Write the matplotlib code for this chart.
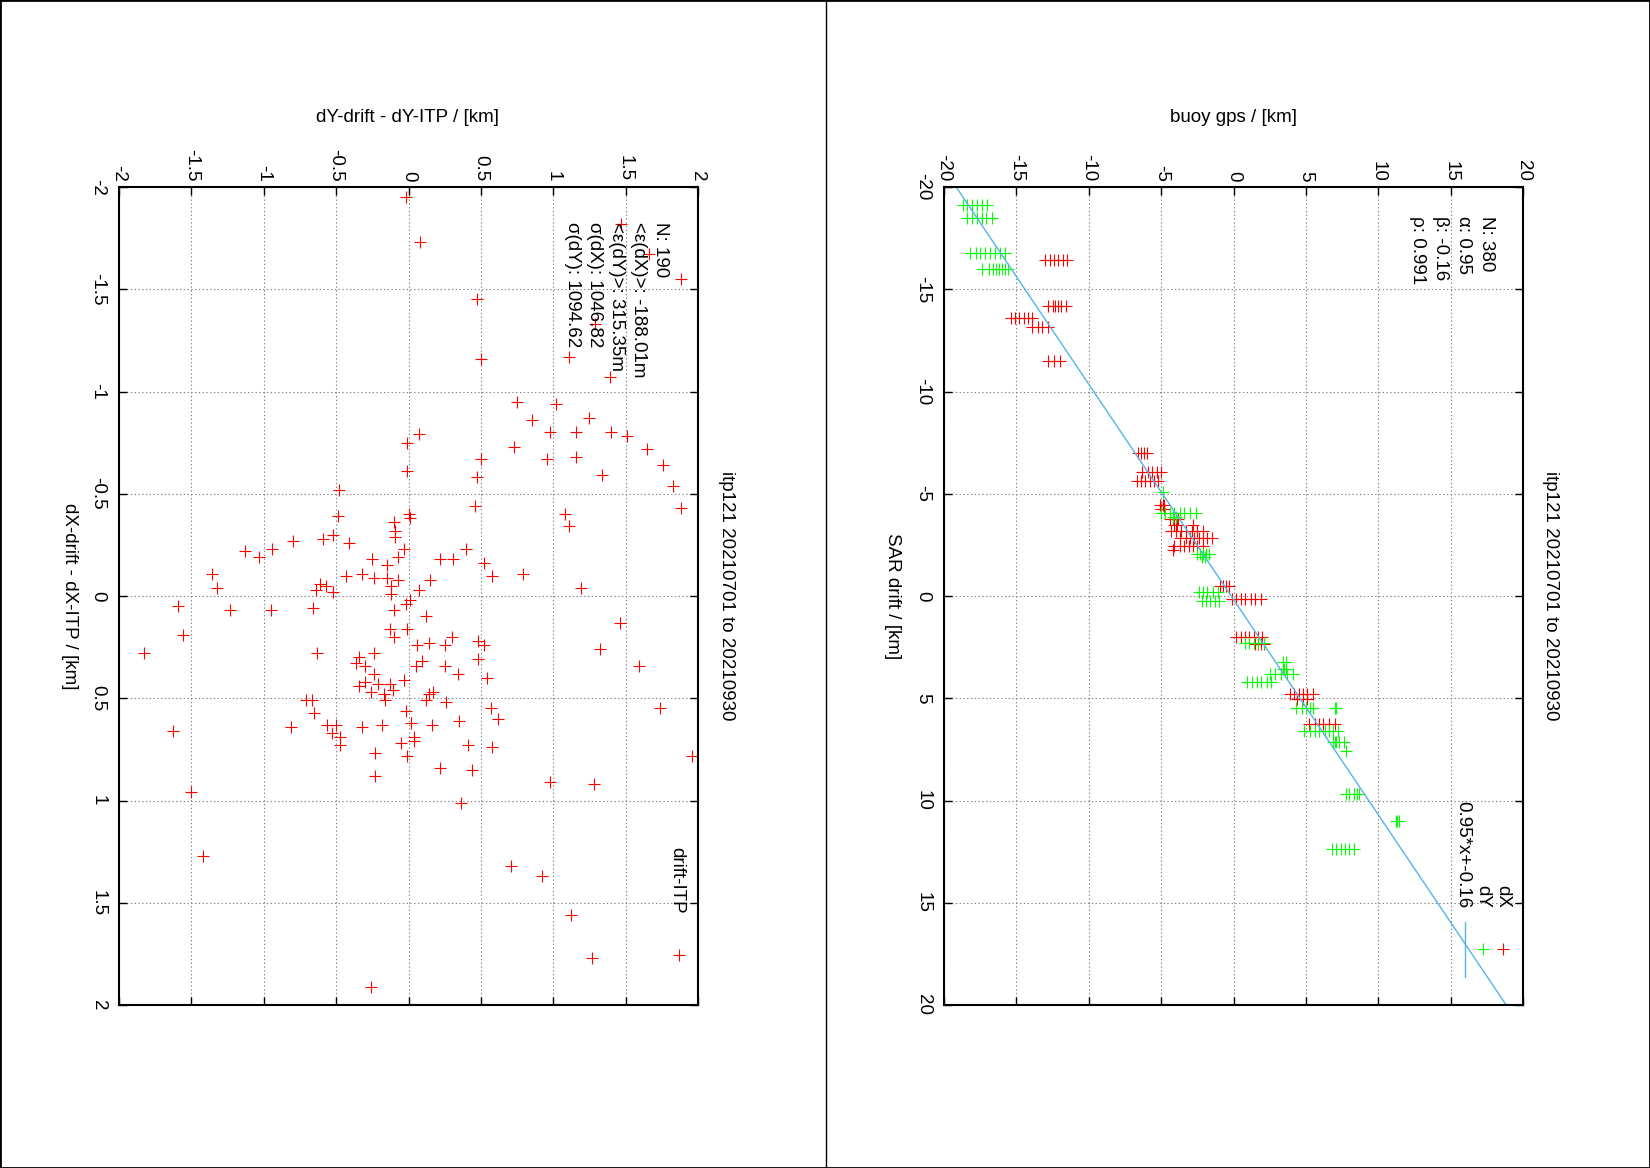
import matplotlib
matplotlib.use("Agg")
import matplotlib.pyplot as plt
from matplotlib.lines import Line2D
import numpy as np

plt.rcParams['font.family'] = ['Liberation Sans', 'DejaVu Sans']
plt.rcParams['axes.unicode_minus'] = False

# ---- data -------------------------------------------------------------
title = "itp121 20210701 to 20210930"

# right panel: SAR drift vs buoy gps, rows of (SAR drift, [buoy gps ...]) in km
dX_rows = [
    (-16.45, [-13.0, -12.7, -12.4, -12.1, -11.8, -11.5]),
    (-14.18, [-12.8, -12.5, -12.3, -12.1, -11.9, -11.6]),
    (-13.6, [-15.4, -15.1, -14.8, -14.5, -14.2, -13.9]),
    (-13.17, [-13.9, -13.5, -13.2, -12.8]),
    (-11.48, [-12.8, -12.4, -12.0]),
    (-7.0, [-6.6, -6.4, -6.2, -6.0]),
    (-6.04, [-6.3, -5.9, -5.6, -5.3, -5.0]),
    (-5.63, [-6.7, -6.4, -6.1, -5.8, -5.5, -5.2]),
    (-4.43, [-5.1, -4.9, -4.8]),
    (-4.25, [-5.0, -4.8]),
    (-3.78, [-4.4, -4.2, -4.0, -3.8]),
    (-3.48, [-4.1, -3.9, -2.8]),
    (-3.19, [-4.3, -4.0, -3.6, -3.3, -2.9, -2.5, -2.1]),
    (-2.86, [-3.7, -3.3, -3.0, -2.7, -2.4, -2.1, -1.8, -1.5]),
    (-2.45, [-4.1, -3.7, -3.4, -3.1, -2.8, -2.5, -2.1]),
    (-2.24, [-4.2]),
    (-0.48, [-0.9, -0.7, -0.5, -0.3]),
    (0.14, [-0.1, 0.2, 0.5, 0.8, 1.2, 1.5, 1.9]),
    (2.0, [0.2, 0.5, 0.8, 1.1, 1.4, 1.7, 2.0]),
    (2.35, [1.5, 1.7, 1.9, 2.1]),
    (4.77, [3.9, 4.2, 4.5, 4.8, 5.1, 5.5]),
    (5.02, [4.4, 4.8, 5.1]),
    (6.24, [5.2, 5.6, 5.9, 6.2, 6.6, 7.0]),
]
dY_rows = [
    (-19.12, [-18.7, -18.4, -18.1, -17.7, -17.4, -17.0]),
    (-18.5, [-18.4, -18.1, -17.7, -17.4, -17.1, -16.7]),
    (-16.79, [-18.2, -17.8, -17.5, -17.2, -16.8, -16.5, -16.1, -15.8]),
    (-16.0, [-17.4, -16.9, -16.6, -16.4, -16.2, -16.0, -15.8, -15.6]),
    (-5.1, [-4.9]),
    (-4.06, [-5.0, -4.7, -4.4, -4.1, -3.7, -3.4, -3.0, -2.6]),
    (-3.86, [-4.2, -4.0]),
    (-2.04, [-2.5, -2.3, -2.1, -1.9, -1.7]),
    (-1.9, [-2.2, -2.0]),
    (-0.18, [-2.4, -2.1, -1.8, -1.4, -1.1]),
    (0.25, [-2.2, -1.9, -1.6, -1.3, -1.0]),
    (2.3, [0.8, 1.1, 1.4, 1.7, 2.1]),
    (3.23, [3.4, 3.6]),
    (3.56, [3.4, 3.5, 3.6]),
    (3.8, [2.5, 2.9, 3.3, 3.7, 4.1]),
    (4.2, [0.9, 1.3, 1.6, 1.9, 2.3, 2.6]),
    (5.47, [4.3, 4.7, 5.0, 5.3, 5.5, 7.0, 7.1]),
    (6.61, [4.9, 5.3, 5.6, 5.9, 6.3, 6.6, 6.9, 7.2]),
    (7.14, [6.9, 7.0, 7.1, 7.3, 7.65]),
    (7.6, [7.8]),
    (9.68, [7.8, 8.0, 8.3, 8.5, 8.7]),
    (10.98, [11.2, 11.3, 11.4]),
    (12.36, [6.8, 7.1, 7.4, 7.7, 8.0, 8.3]),
]
fit_alpha = 0.95
fit_beta = -0.16
right_stats = ["N: 380", "α: 0.95", "β: -0.16", "ρ: 0.991"]

# left panel: drift - ITP differences in km
err_dY = [-0.02, 0.08, 1.47, 1.66, 1.88, 0.47, 1.29, 1.11, 1.39, 0.50,
          0.75, 1.02, 0.85, 1.25, 1.16, 1.40, 0.98, 0.07, 1.51, 1.65,
          0.96, 0.50, -0.01, 1.16, 1.76, 0.73, -0.01, 1.83, 1.34, 0.47,
          1.88, -0.48, 0.46, 0.00, 0.01, 1.08, 1.11, -0.49, -0.52, -0.10,
          -0.09, -0.09, -0.41, -0.59, -0.80, -0.94, -1.13, -1.03, -0.03, -0.07,
          -0.25, 0.40, 0.31, 0.52, 0.22, -0.15, -0.32, -0.24, -0.15, -0.07,
          -1.36, 0.58, 0.79, -1.32, -1.23, -0.95, -0.61, -0.57, -0.64, -0.52,
          -0.43, -0.12, 0.07, 0.15, 1.19, -0.12, 0.01, -1.59, -1.56, -0.66,
          -0.02, -0.10, 0.12, -0.13, -0.10, -0.01, 0.06, 0.25, 0.30, 0.48,
          0.52, 1.46, 1.32, -1.83, -0.24, -0.34, -0.36, -0.30, -0.24, 0.09,
          0.14, 0.48, 0.05, 0.25, 0.34, 0.54, 1.59, -0.63, -0.30, -0.21,
          -0.26, -0.34, -0.13, -0.11, -0.17, -0.16, 0.14, 0.12, 0.17, 0.26,
          -0.03, -0.02, 0.02, 0.35, 0.57, 0.62, -0.71, -0.65, -0.56, -0.50,
          -0.53, -0.47, -0.47, -0.67, -0.18, 0.16, 0.04, 0.04, 0.58, -1.63,
          -0.32, -0.81, -0.05, -0.23, -0.01, 0.41, 0.22, 0.44, -1.50, 0.98,
          1.28, -0.23, 0.36, -1.42, 0.71, 0.92, 1.12, 1.27, -0.26, 1.96, 1.74]
err_dX = [-1.95, -1.73, -1.82, -1.67, -1.55, -1.45, -1.33, -1.17, -1.07, -1.16,
          -0.95, -0.94, -0.86, -0.87, -0.80, -0.80, -0.80, -0.79, -0.78, -0.72,
          -0.67, -0.67, -0.75, -0.68, -0.64, -0.73, -0.61, -0.54, -0.59, -0.58,
          -0.43, -0.52, -0.44, -0.40, -0.38, -0.40, -0.34, -0.39, -0.30, -0.36,
          -0.32, -0.29, -0.26, -0.28, -0.27, -0.23, -0.22, -0.19, -0.23, -0.19,
          -0.18, -0.23, -0.18, -0.16, -0.18, -0.15, -0.11, -0.09, -0.09, -0.08,
          -0.11, -0.10, -0.11, -0.04, 0.07, 0.07, -0.06, -0.05, -0.03, -0.02,
          -0.10, -0.05, -0.03, -0.08, -0.04, -0.01, 0.02, 0.05, 0.19, 0.06,
          0.04, 0.07, 0.10, 0.16, 0.20, 0.16, 0.24, 0.24, 0.20, 0.22,
          0.24, 0.13, 0.26, 0.28, 0.28, 0.30, 0.33, 0.34, 0.38, 0.32,
          0.23, 0.31, 0.34, 0.34, 0.38, 0.40, 0.34, 0.28, 0.42, 0.43,
          0.47, 0.44, 0.43, 0.46, 0.48, 0.51, 0.48, 0.51, 0.47, 0.52,
          0.41, 0.56, 0.62, 0.61, 0.55, 0.60, 0.51, 0.57, 0.63, 0.63,
          0.67, 0.69, 0.73, 0.51, 0.63, 0.63, 0.69, 0.71, 0.74, 0.66,
          0.64, 0.64, 0.72, 0.77, 0.78, 0.73, 0.84, 0.85, 0.96, 0.91,
          0.92, 0.88, 1.01, 1.27, 1.32, 1.37, 1.56, 1.77, 1.91, 0.78, 0.55]
left_stats = ["N: 190", "<ε(dX)>: -188.01m", "<ε(dY)>: 315.35m",
              "σ(dX): 1046.82", "σ(dY): 1094.62"]

right_ticks = [-20, -15, -10, -5, 0, 5, 10, 15, 20]
left_ticks = [-2, -1.5, -1, -0.5, 0, 0.5, 1, 1.5, 2]
left_ticklabels = ["-2", "-1.5", "-1", "-0.5", "0", "0.5", "1", "1.5", "2"]

# ---- figure -----------------------------------------------------------
W, H = 1650, 1168
fs = 13.5
mk = dict(ls='none', marker='+', ms=8, mew=0.8)
fig = plt.figure(figsize=(W / 100, H / 100), dpi=100)


def fx(px):
    return px / W


def fy(py):
    return 1 - py / H


def style(ax, ticks, labels):
    lim = (ticks[0], ticks[-1])
    ax.set_xlim(lim)
    ax.set_ylim(lim[::-1])
    ax.set_xticks(ticks)
    ax.set_yticks(ticks)
    ax.set_xticklabels(labels)
    ax.set_yticklabels(labels)
    ax.tick_params(direction='in', length=6, width=1, top=True, right=True,
                   labeltop=True, labelbottom=False, labelsize=fs)
    ax.tick_params(axis='x', labelrotation=-90, pad=4)
    ax.tick_params(axis='y', labelrotation=-90, pad=9)
    for lab in ax.get_yticklabels():
        lab.set_va('center')
    ax.grid(True, color='#808080', lw=0.8, ls=(0, (1.2, 2.2)))
    for s in ax.spines.values():
        s.set_linewidth(1.5)


ax_l = fig.add_axes([fx(119), fy(1005), 579 / W, 818 / H])
ax_r = fig.add_axes([fx(944), fy(1005), 579 / W, 818 / H])

# right panel
sar_x = [s for s, g in dX_rows for _ in g]
gps_x = [v for s, g in dX_rows for v in g]
sar_y = [s for s, g in dY_rows for _ in g]
gps_y = [v for s, g in dY_rows for v in g]
ax_r.plot(gps_x, sar_x, color='#ff0000', **mk)
ax_r.plot(gps_y, sar_y, color='#00ff00', **mk)
sar_line = np.array([-20.0, 20.0])
ax_r.plot(fit_alpha * sar_line + fit_beta, sar_line, color='#56b4e9', lw=1)
style(ax_r, right_ticks, [str(t) for t in right_ticks])

# left panel
ax_l.plot(err_dY, err_dX, color='#ff0000', **mk)
style(ax_l, left_ticks, left_ticklabels)

# texts
txt = dict(rotation=-90, fontsize=fs)
for off in (0, 825):
    fig.text(fx(726 + off), fy(596), title, ha='center', va='center', **txt)
fig.text(fx(1233), fy(117), "buoy gps / [km]", ha='center', va='center', fontsize=fs)
fig.text(fx(408), fy(117), "dY-drift - dY-ITP / [km]", ha='center', va='center', fontsize=fs)
fig.text(fx(892), fy(596), "SAR drift / [km]", ha='center', va='center', **txt)
fig.text(fx(69), fy(596), "dX-drift - dX-ITP / [km]", ha='center', va='center', **txt)

for i, s in enumerate(right_stats):
    fig.text(fx(1486 - i * 22.7), fy(216), s, ha='center', va='top', **txt)
for i, s in enumerate(left_stats):
    fig.text(fx(660 - i * 21.8), fy(222), s, ha='center', va='top', **txt)

# keys
keys = [("dX", 1503, '#ff0000'), ("dY", 1483, '#00ff00')]
for label, x, c in keys:
    fig.text(fx(x), fy(908), label, ha='center', va='bottom', **txt)
    fig.add_artist(Line2D([fx(x)], [fy(949)], color=c, transform=fig.transFigure, **mk))
fig.text(fx(1463), fy(908), "%.2f*x+%.2f" % (fit_alpha, fit_beta), ha='center', va='bottom', **txt)
fig.add_artist(Line2D([fx(1465), fx(1465)], [fy(922), fy(977)], color='#56b4e9', lw=1,
                      transform=fig.transFigure))
fig.text(fx(677), fy(914), "drift-ITP", ha='center', va='bottom', **txt)
fig.add_artist(Line2D([fx(679)], [fy(955)], color='#ff0000', transform=fig.transFigure, **mk))

# page frame and divider
fig.add_artist(Line2D([0, 0, 1, 1, 0], [0, 1, 1, 0, 0], color='black', lw=2,
                      transform=fig.transFigure))
fig.add_artist(Line2D([fx(826), fx(826)], [0, 1], color='black', lw=1,
                      transform=fig.transFigure))

fig.savefig("out.png", dpi=100)
